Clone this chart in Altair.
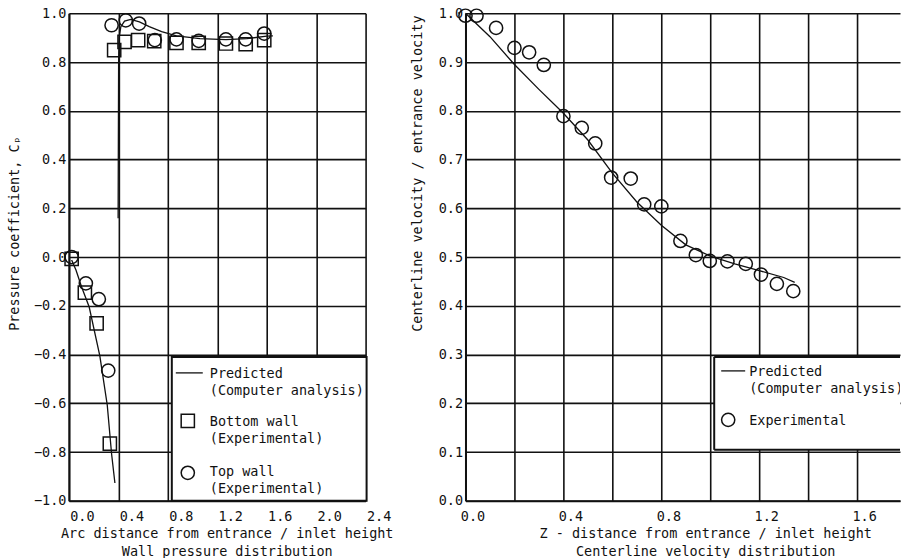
import altair as alt
import pandas as pd

FONT = "DejaVu Sans Mono"
FS = 13.5
INK = "#111111"

# ---------------- Left panel: wall pressure distribution ----------------
bottom_wall_x = [0.022, 0.129, 0.224, 0.331, 0.366, 0.45, 0.56, 0.69, 0.87, 1.05, 1.27, 1.43, 1.58]
bottom_wall_cp = [-0.008, -0.146, -0.272, -0.766, 0.849, 0.883, 0.89, 0.886, 0.879, 0.879, 0.876, 0.873, 0.89]

top_wall_x = [0.022, 0.137, 0.242, 0.318, 0.345, 0.46, 0.568, 0.695, 0.87, 1.05, 1.27, 1.43, 1.58]
top_wall_cp = [0.0, -0.108, -0.173, -0.466, 0.951, 0.971, 0.958, 0.89, 0.893, 0.887, 0.893, 0.893, 0.917]

pred_low_x = [0.022, 0.057, 0.102, 0.164, 0.25, 0.31, 0.345, 0.372]
pred_low_cp = [-0.012, -0.053, -0.122, -0.205, -0.406, -0.607, -0.807, -0.927]

pred_up_x = [0.398, 0.402, 0.406, 0.42, 0.45, 0.50, 0.57, 0.65, 0.75, 0.87, 1.06, 1.27, 1.44, 1.60, 1.65]
pred_up_cp = [0.159, 0.80, 0.90, 0.945, 0.968, 0.975, 0.965, 0.945, 0.925, 0.907, 0.896, 0.892, 0.896, 0.906, 0.907]

left_x_ticks = [0.0, 0.4, 0.8, 1.2, 1.6, 2.0, 2.4]
left_y_ticks = [-1.0, -0.8, -0.6, -0.4, -0.2, 0.0, 0.2, 0.4, 0.6, 0.8, 1.0]

# ---------------- Right panel: centerline velocity distribution ----------------
exp_z = [0.0, 0.045, 0.125, 0.2, 0.26, 0.32, 0.40, 0.475, 0.53, 0.595, 0.675, 0.73, 0.80,
         0.878, 0.941, 0.998, 1.07, 1.145, 1.207, 1.272, 1.339]
exp_v = [0.995, 0.995, 0.97, 0.929, 0.92, 0.894, 0.789, 0.765, 0.733, 0.663, 0.661, 0.608, 0.604,
         0.533, 0.504, 0.492, 0.491, 0.486, 0.464, 0.445, 0.430]

pred_z = [0.0, 0.1, 0.2, 0.3, 0.4, 0.5, 0.6, 0.7, 0.8, 0.9, 1.0, 1.1, 1.2, 1.3, 1.345]
pred_v = [1.0, 0.952, 0.895, 0.844, 0.795, 0.740, 0.672, 0.613, 0.565, 0.525, 0.502, 0.486, 0.472, 0.458, 0.448]

right_x_grid = [0.0, 0.2, 0.4, 0.6, 0.8, 1.0, 1.2, 1.4, 1.6]
right_y_ticks = [0.0, 0.1, 0.2, 0.3, 0.4, 0.5, 0.6, 0.7, 0.8, 0.9, 1.0]

# ---------------- tables ----------------
pred_left = pd.DataFrame({
    "x": pred_low_x + pred_up_x,
    "cp": pred_low_cp + pred_up_cp,
    "seg": ["low"] * len(pred_low_x) + ["up"] * len(pred_up_x),
    "i": list(range(len(pred_low_x))) + list(range(len(pred_up_x))),
})
bottom_df = pd.DataFrame({"x": bottom_wall_x, "cp": bottom_wall_cp})
top_df = pd.DataFrame({"x": top_wall_x, "cp": top_wall_cp})
exp_df = pd.DataFrame({"z": exp_z, "v": exp_v})
pred_right = pd.DataFrame({"z": pred_z, "v": pred_v, "i": list(range(len(pred_z)))})
one = pd.DataFrame({"k": [0]})

PT = 175
W_L, W_R, H = 297, 435, 488

def axis_common(**kw):
    base = dict(
        grid=True, gridColor=INK, gridWidth=1.6, gridOpacity=1,
        domain=True, domainColor=INK, domainWidth=2,
        ticks=False, labelFont=FONT, labelFontSize=FS, labelColor=INK,
        titleFont=FONT, titleFontSize=FS, titleColor=INK, titleFontWeight="normal",
        labelOverlap=False, labelFlush=False,
    )
    base.update(kw)
    return alt.Axis(**base)

left_x_axis = axis_common(
    values=left_x_ticks, format=".1f", labelOffset=13, labelPadding=9,
    title=["Arc distance from entrance / inlet height", "Wall pressure distribution\u00a0\u00a0"],
    titleX=158, titleY=26, titleAlign="center", titleBaseline="top", titleLineHeight=17.5,
)
left_y_axis = axis_common(
    values=left_y_ticks, format=".1f", labelPadding=3,
    title="Pressure coefficient, C\u209a",
    titleX=-54, titleY=220, titleAlign="center", titleBaseline="middle", titleAngle=270,
)

xs_l = alt.X("x:Q", scale=alt.Scale(domain=[0, 2.4], nice=False, zero=False), axis=left_x_axis)
ys_l = alt.Y("cp:Q", scale=alt.Scale(domain=[-1.0, 1.0], nice=False, zero=False), axis=left_y_axis)

l_line = alt.Chart(pred_left).mark_line(color=INK, strokeWidth=1.3).encode(
    x=xs_l, y=ys_l, detail="seg:N", order="i:Q")
l_sq = alt.Chart(bottom_df).mark_point(shape="square", size=PT, filled=False, color=INK,
                                       strokeWidth=1.5, opacity=1).encode(x="x:Q", y="cp:Q")
l_ci = alt.Chart(top_df).mark_point(shape="circle", size=PT, filled=False, color=INK,
                                    strokeWidth=1.5, opacity=1).encode(x="x:Q", y="cp:Q")

# legend (left)
lg_box = alt.Chart(one).mark_rect(fill="white", stroke=INK, strokeWidth=2).encode(
    x=alt.value(103), x2=alt.value(298), y=alt.value(344), y2=alt.value(488))
lg_line = alt.Chart(one).mark_rule(color=INK, strokeWidth=1.3).encode(
    x=alt.value(107), x2=alt.value(134), y=alt.value(360))
lg_sq = alt.Chart(one).mark_point(shape="square", size=PT, filled=False, color=INK,
                                  strokeWidth=1.5, opacity=1).encode(x=alt.value(119), y=alt.value(408))
lg_ci = alt.Chart(one).mark_point(shape="circle", size=PT, filled=False, color=INK,
                                  strokeWidth=1.5, opacity=1).encode(x=alt.value(119), y=alt.value(460))

def ltext(lines, x, y, clip=False):
    return alt.Chart(one).mark_text(
        text=lines, align="left", baseline="alphabetic", font=FONT, fontSize=FS,
        color=INK, lineHeight=17.5, clip=clip).encode(x=alt.value(x), y=alt.value(y))

lg_t1 = ltext(["Predicted", "(Computer analysis)"], 141, 365)
lg_t2 = ltext(["Bottom wall", "(Experimental)"], 141, 413)
lg_t3 = ltext(["Top wall", "(Experimental)"], 141, 463)

left = alt.layer(l_line, l_sq, l_ci, lg_box, lg_line, lg_sq, lg_ci, lg_t1, lg_t2, lg_t3).properties(
    width=W_L, height=H)

# ---------------- right chart ----------------
right_x_axis = axis_common(
    values=right_x_grid, format=".1f", labelOffset=7, labelPadding=9,
    labelExpr="(round(datum.value * 10) % 4 == 0) ? datum.label : ''",
    title=["Z - distance from entrance / inlet height",
           "\u00a0\u00a0\u00a0\u00a0\u00a0Centerline velocity distribution"],
    titleX=240, titleY=26, titleAlign="center", titleBaseline="top", titleLineHeight=17.5,
)
right_y_axis = axis_common(
    values=right_y_ticks, format=".1f", labelPadding=3,
    title="Centerline velocity / entrance velocity",
    titleX=-48, titleY=160, titleAlign="center", titleBaseline="middle", titleAngle=270,
)
xs_r = alt.X("z:Q", scale=alt.Scale(domain=[0, 1.775], nice=False, zero=False), axis=right_x_axis)
ys_r = alt.Y("v:Q", scale=alt.Scale(domain=[0, 1.0], nice=False, zero=False), axis=right_y_axis)

r_line = alt.Chart(pred_right).mark_line(color=INK, strokeWidth=1.3).encode(
    x=xs_r, y=ys_r, order="i:Q")
r_ci = alt.Chart(exp_df).mark_point(shape="circle", size=PT, filled=False, color=INK,
                                    strokeWidth=1.5, opacity=1).encode(x="z:Q", y="v:Q")

rg_box = alt.Chart(one).mark_rect(fill="white").encode(
    x=alt.value(249), x2=alt.value(435), y=alt.value(344), y2=alt.value(437))
rg_top = alt.Chart(one).mark_rule(color=INK, strokeWidth=2).encode(
    x=alt.value(249), x2=alt.value(435), y=alt.value(344))
rg_bot = alt.Chart(one).mark_rule(color=INK, strokeWidth=2).encode(
    x=alt.value(249), x2=alt.value(435), y=alt.value(437))
rg_left = alt.Chart(one).mark_rule(color=INK, strokeWidth=2).encode(
    x=alt.value(249), y=alt.value(344), y2=alt.value(437))
rg_line = alt.Chart(one).mark_rule(color=INK, strokeWidth=1.3).encode(
    x=alt.value(256), x2=alt.value(280), y=alt.value(358))
rg_ci = alt.Chart(one).mark_point(shape="circle", size=PT, filled=False, color=INK,
                                  strokeWidth=1.5, opacity=1).encode(x=alt.value(263), y=alt.value(407))
rg_t1 = ltext(["Predicted", "(Computer analysis)"], 284, 363, clip=True)
rg_t2 = ltext(["Experimental"], 284, 412, clip=True)

right = alt.layer(r_line, r_ci, rg_box, rg_top, rg_bot, rg_left, rg_line, rg_ci, rg_t1, rg_t2).properties(
    width=W_R, height=H)

chart = alt.hconcat(left, right, spacing=100, bounds="flush").properties(
    padding={"left": 8, "top": 5, "right": 0, "bottom": 0},
    background="white",
).configure_view(stroke=None)

chart.save("out.html", embed_options={"renderer": "svg", "actions": False})
